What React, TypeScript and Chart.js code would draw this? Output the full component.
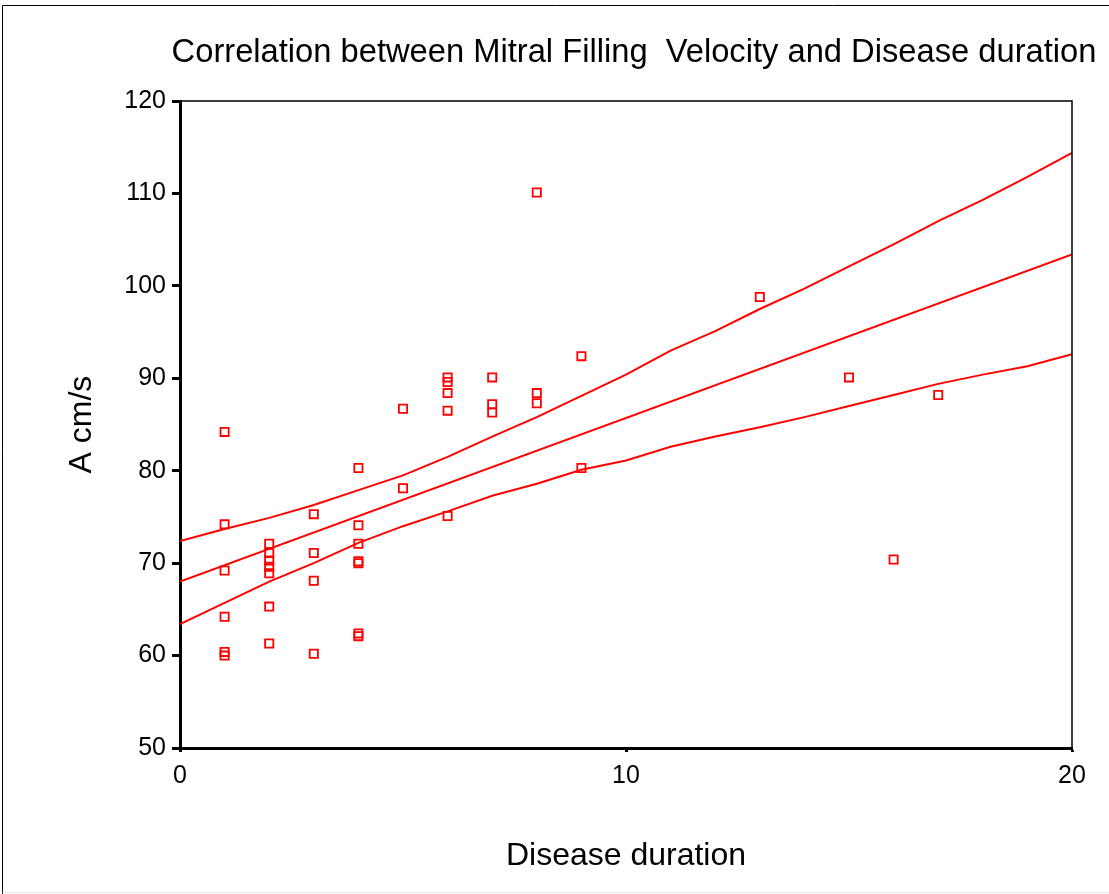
import React, { useEffect, useRef } from 'react';
import { Chart, registerables } from 'chart.js';

Chart.register(...registerables);

const TITLE = 'Correlation between Mitral Filling  Velocity and Disease duration';
const X_LABEL = 'Disease duration';
const Y_LABEL = 'A cm/s';

// Observed cases (disease duration, A velocity cm/s)
const durationX = [
  1, 1, 1, 1, 1, 1,
  2, 2, 2, 2, 2, 2, 2,
  3, 3, 3, 3,
  4, 4, 4, 4, 4, 4, 4,
  5, 5,
  6, 6, 6, 6, 6,
  7, 7, 7,
  8, 8, 8,
  9, 9,
  13, 15, 16, 17,
];
const velocityA = [
  84.2, 74.2, 69.2, 64.2, 60.4, 60.0,
  72.1, 71.1, 70.3, 69.6, 68.9, 65.3, 61.3,
  75.3, 71.1, 68.1, 60.2,
  80.3, 74.1, 72.1, 70.2, 70.0, 62.4, 62.1,
  86.7, 78.1,
  90.1, 89.6, 88.4, 86.5, 75.1,
  90.1, 87.2, 86.3,
  110.1, 88.4, 87.3,
  92.4, 80.3,
  98.8, 90.1, 70.4, 88.2,
];

// Linear fit line
const fitX = [0, 20];
const fitY = [68.0, 103.4];

// Confidence band
const bandX = [0, 1, 2, 3, 4, 5, 6, 7, 8, 9, 10, 11, 12, 13, 14, 15, 16, 17, 18, 19, 20];
const upperBand = [72.4, 73.7, 74.9, 76.3, 77.9, 79.5, 81.5, 83.7, 85.8, 88.1, 90.4, 93.0, 95.1, 97.5, 99.7, 102.1, 104.5, 107.0, 109.3, 111.8, 114.4];
const lowerBand = [63.4, 65.7, 68.0, 70.0, 72.2, 74.0, 75.6, 77.3, 78.6, 80.1, 81.1, 82.6, 83.7, 84.7, 85.8, 87.0, 88.2, 89.4, 90.4, 91.3, 92.6];

const xTicks = [0, 10, 20];
const yTicks = [50, 60, 70, 80, 90, 100, 110, 120];

const FONT = "'Liberation Sans', Arial, Helvetica, sans-serif";
const RED = '#ff0000';

// Widen the title box a little beyond the plot area (as in the original)
const titleBoxPlugin = {
  id: 'titleBox',
  afterLayout(chart: any) {
    const t = chart.titleBlock;
    const ca = chart.chartArea;
    if (t && ca) {
      t.left = ca.left - 10;
      t.right = ca.right + 26;
      t.width = t.right - t.left;
    }
  },
};

const framePlugin = {
  id: 'frameAndBorder',
  afterDraw(chart: any) {
    const { ctx, chartArea, width, height } = chart;
    ctx.save();
    // plot frame (top and right)
    ctx.strokeStyle = '#000';
    ctx.lineWidth = 1.5;
    ctx.beginPath();
    ctx.moveTo(chartArea.left, chartArea.top);
    ctx.lineTo(chartArea.right, chartArea.top);
    ctx.lineTo(chartArea.right, chartArea.bottom);
    ctx.stroke();
    // outer picture border
    ctx.lineWidth = 1;
    ctx.strokeStyle = '#000';
    ctx.beginPath();
    ctx.moveTo(2.5, height);
    ctx.lineTo(2.5, 5.5);
    ctx.lineTo(width, 5.5);
    ctx.stroke();
    ctx.strokeStyle = '#e6e6e6';
    ctx.beginPath();
    ctx.moveTo(2.5, 892.5);
    ctx.lineTo(width, 892.5);
    ctx.stroke();
    ctx.restore();
  },
};

export default function App() {
  const canvasRef = useRef<HTMLCanvasElement | null>(null);

  useEffect(() => {
    document.body.style.margin = '0';
    const canvas = canvasRef.current;
    if (!canvas) return;

    const lineDs = (label: string, xs: number[], ys: number[]) => ({
      label,
      data: xs.map((x, i) => ({ x, y: ys[i] })),
      showLine: true,
      borderColor: RED,
      borderWidth: 2,
      pointRadius: 0,
      fill: false,
      tension: 0,
    });

    const chart = new Chart(canvas, {
      type: 'scatter',
      data: {
        datasets: [
          {
            label: 'A cm/s',
            data: durationX.map((x, i) => ({ x, y: velocityA[i] })),
            showLine: false,
            pointStyle: 'rect',
            pointRadius: 5.8,
            pointHoverRadius: 5.8,
            pointBorderWidth: 1.8,
            pointBorderColor: RED,
            pointBackgroundColor: 'rgba(0,0,0,0)',
          } as any,
          lineDs('Linear fit', fitX, fitY),
          lineDs('Upper bound', bandX, upperBand),
          lineDs('Lower bound', bandX, lowerBand),
        ],
      },
      options: {
        responsive: false,
        animation: false,
        events: [],
        layout: { padding: { left: 0, right: 37, top: 0, bottom: 0 } },
        plugins: {
          legend: { display: false },
          tooltip: { enabled: false },
          title: {
            display: true,
            text: TITLE,
            color: '#000',
            fullSize: false,
            font: { family: FONT, size: 32.7, weight: 'normal' },
            padding: { top: 33, bottom: 28.8 },
          },
        },
        scales: {
          x: {
            type: 'linear',
            min: 0,
            max: 20,
            afterBuildTicks: (scale: any) => {
              scale.ticks = xTicks.map((v) => ({ value: v }));
            },
            afterFit: (scale: any) => {
              scale.height = 146;
            },
            ticks: {
              color: '#000',
              font: { family: FONT, size: 25 },
              padding: 9,
              maxRotation: 0,
              autoSkip: false,
            },
            grid: {
              display: true,
              drawOnChartArea: false,
              drawTicks: true,
              tickLength: 4,
              tickWidth: 3,
              tickColor: '#000',
            },
            border: { display: true, color: '#000', width: 3 },
            title: {
              display: true,
              text: X_LABEL,
              color: '#000',
              font: { family: FONT, size: 32 },
              padding: { top: 0, bottom: 19 },
            },
          },
          y: {
            type: 'linear',
            min: 50,
            max: 120,
            afterBuildTicks: (scale: any) => {
              scale.ticks = yTicks.map((v) => ({ value: v }));
            },
            afterFit: (scale: any) => {
              scale.width = 180;
            },
            ticks: {
              color: '#000',
              font: { family: FONT, size: 25 },
              padding: 6,
              autoSkip: false,
            },
            grid: {
              display: true,
              drawOnChartArea: false,
              drawTicks: true,
              tickLength: 8,
              tickWidth: 3,
              tickColor: '#000',
            },
            border: { display: true, color: '#000', width: 3 },
            title: {
              display: true,
              text: Y_LABEL,
              color: '#000',
              font: { family: FONT, size: 32 },
              padding: { top: 63, bottom: 0 },
            },
          },
        },
      },
      plugins: [titleBoxPlugin, framePlugin],
    } as any);

    return () => {
      chart.destroy();
    };
  }, []);

  return (
    <div style={{ width: 1109, height: 894, background: '#fff' }}>
      <canvas ref={canvasRef} width={1109} height={894} style={{ display: 'block' }} />
    </div>
  );
}
